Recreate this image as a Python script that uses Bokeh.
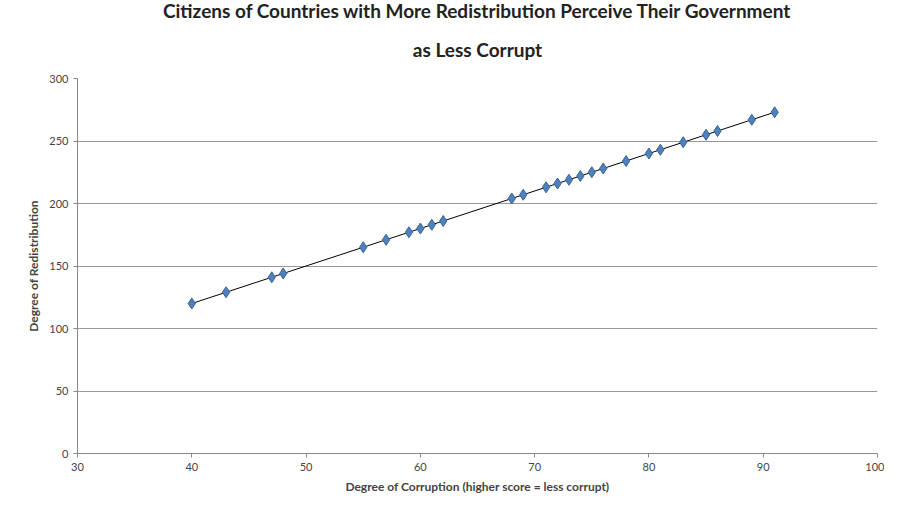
import numpy as np
from bokeh.plotting import figure
from bokeh.models import FixedTicker, Title
from bokeh.embed import file_html
from bokeh.resources import INLINE

corruption = [40, 43, 47, 48, 55, 57, 59, 60, 61, 62, 68, 69, 71, 72, 73, 74, 75, 76, 78, 80, 81, 83, 85, 86, 89, 91]
redistribution = [120, 129, 141, 144, 165, 171, 177, 180, 183, 186, 204, 207, 213, 216, 219, 222, 225, 228, 234, 240, 243, 249, 255, 258, 267, 273]

p = figure(width=884, height=513, x_range=(30, 100), y_range=(0, 300),
           output_backend="svg", toolbar_location=None,
           min_border_left=77, min_border_right=7, min_border_top=10, min_border_bottom=60)
p.title = None
t2 = Title(text="as Less Corrupt", align="center", text_font="Lato", text_font_size="19px",
           text_font_style="bold", text_color="#222222", standoff=36, offset=0)
t1 = Title(text="Citizens of Countries with More Redistribution Perceive Their Government",
           align="center", text_font="Lato", text_font_size="19px",
           text_font_style="bold", text_color="#222222", standoff=-8)
p.add_layout(t2, "above")
p.add_layout(t1, "above")

m, b = np.polyfit(corruption, redistribution, 1)
xs = [min(corruption), max(corruption)]
p.line(xs, [m * x + b for x in xs], color="black", line_width=1)
p.scatter(corruption, redistribution, marker="diamond", size=11,
          fill_color="#4F81BD", line_color="#3A6496")

p.xaxis.ticker = FixedTicker(ticks=list(range(30, 101, 10)))
p.yaxis.ticker = FixedTicker(ticks=list(range(0, 301, 50)))
p.xaxis.axis_label = "Degree of Corruption (higher score = less corrupt)"
p.yaxis.axis_label = "Degree of Redistribution"
for ax in (p.xaxis, p.yaxis):
    ax.axis_label_text_font = "Lato"
    ax.axis_label_text_font_style = "bold"
    ax.axis_label_text_font_size = "12px"
    ax.major_label_text_font = "Lato"
    ax.major_label_text_font_size = "11px"
    ax.minor_tick_line_color = None
    ax.major_tick_in = 0
    ax.major_tick_out = 4
    ax.axis_line_color = "#888888"
    ax.major_tick_line_color = "#888888"
p.xgrid.grid_line_color = None
p.ygrid.grid_line_color = "#999999"
p.outline_line_color = None
p.background_fill_color = "white"

open("out.html", "w").write(file_html(p, INLINE))
